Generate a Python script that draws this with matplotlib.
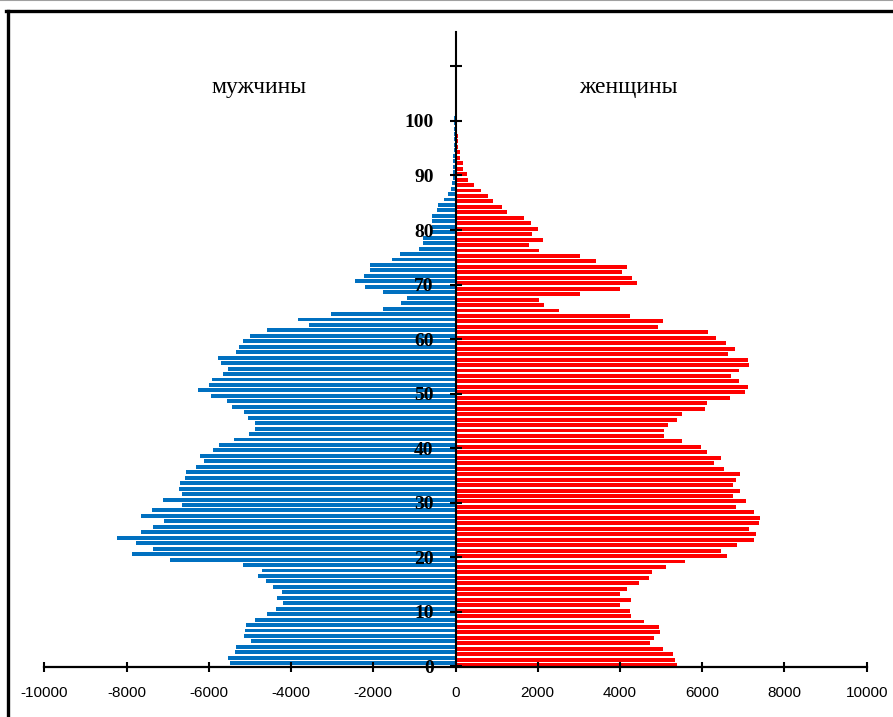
import matplotlib.pyplot as plt
import numpy as np
from matplotlib import font_manager
from matplotlib.lines import Line2D

# возраст 0..100, численность по одному году
ages = np.arange(101)

male = [5474, 5523, 5353, 5328, 4963, 5134, 5109, 5085, 4866, 4574,
        4355, 4185, 4331, 4209, 4428, 4598, 4793, 4696, 5158, 6934,
        7859, 7348, 7761, 8224, 7640, 7348, 7080, 7640, 7372, 6642,
        7104, 6642, 6715, 6691, 6569, 6545, 6301, 6107, 6204, 5888,
        5742, 5377, 5012, 4866, 4866, 5036, 5134, 5426, 5547, 5937,
        6253, 5985, 5912, 5645, 5523, 5693, 5766, 5328, 5255, 5158,
        4988, 4574, 3552, 3820, 3017, 1776, 1338, 1192, 1776, 2190,
        2457, 2238, 2092, 2092, 1557, 1362, 900, 803, 779, 608,
        560, 560, 560, 462, 414, 292, 195, 122, 97, 65,
        60, 55, 50, 50, 45, 45, 40, 40, 35, 30,
        30]

female = [5377, 5328, 5280, 5036, 4720, 4817, 4963, 4939, 4574, 4258,
          4233, 3990, 4258, 3990, 4160, 4452, 4696, 4769, 5109, 5572,
          6593, 6447, 6837, 7250, 7299, 7129, 7372, 7396, 7250, 6812,
          7056, 6739, 6910, 6739, 6812, 6910, 6520, 6277, 6447, 6107,
          5961, 5499, 5061, 5061, 5158, 5377, 5499, 6058, 6107, 6667,
          7031, 7104, 6885, 6691, 6885, 7129, 7104, 6618, 6788, 6569,
          6326, 6131, 4915, 5036, 4233, 2506, 2141, 2020, 3017, 3990,
          4404, 4282, 4039, 4160, 3406, 3017, 2020, 1776, 2117, 1849,
          1995, 1825, 1654, 1241, 1119, 900, 779, 608, 438, 292,
          268, 170, 170, 97, 97, 60, 55, 50, 45, 40,
          35]

x_ticks = list(range(-10000, 10001, 2000))
y_ticks = list(range(0, 111, 10))
y_labels = [str(t) for t in range(0, 101, 10)] + ['']

# узкий шрифт для подписей оси X, если есть
try:
    font_manager.findfont('Liberation Sans Narrow', fallback_to_default=False)
    x_font, x_size = 'Liberation Sans Narrow', 13
except ValueError:
    x_font, x_size = 'Liberation Sans', 11

fig = plt.figure(figsize=(8.93, 7.17), dpi=100)
ax = fig.add_axes([0.0497, 0.0693, 0.9208, 0.8861])

ax.barh(ages + 0.6, -np.array(male), height=0.72, color='#0070C0')
ax.barh(ages + 0.25, female, height=0.72, color='#FF0000')

ax.set_xlim(-10000, 10000)
ax.set_ylim(-0.15, 116.3)

ax.spines['top'].set_visible(False)
ax.spines['right'].set_visible(False)
ax.spines['left'].set_position(('data', 0))
ax.spines['left'].set_linewidth(1.5)
ax.spines['bottom'].set_linewidth(1.6)

ax.set_xticks(x_ticks)
ax.set_xticklabels([str(t) for t in x_ticks], family=[x_font, 'DejaVu Sans'], fontsize=x_size)
ax.set_yticks(y_ticks)
ax.set_yticklabels(y_labels, family=['Liberation Serif', 'DejaVu Serif'], fontsize=14, fontweight='bold')
ax.tick_params(axis='x', direction='inout', length=6.5, width=1.5, pad=10.5)
ax.tick_params(axis='y', direction='inout', length=8.4, width=1.5, pad=11.6)

ax.text(-4770, 106.2, 'мужчины', ha='center', va='center',
        family=['Liberation Serif', 'DejaVu Serif'], fontsize=17)
ax.text(4200, 106.2, 'женщины', ha='center', va='center',
        family=['Liberation Serif', 'DejaVu Serif'], fontsize=17)

# рамка, обрезанная справа и снизу
fig.add_artist(Line2D([0, 1], [0.9995, 0.9995], color='#a0a0a0', lw=1.5, transform=fig.transFigure))
fig.add_artist(Line2D([0.0067, 1], [0.984, 0.984], color='black', lw=2.4, transform=fig.transFigure))
fig.add_artist(Line2D([0.0095, 0.0095], [0, 0.985], color='black', lw=2.4, transform=fig.transFigure))

plt.savefig('out.png', dpi=100)
